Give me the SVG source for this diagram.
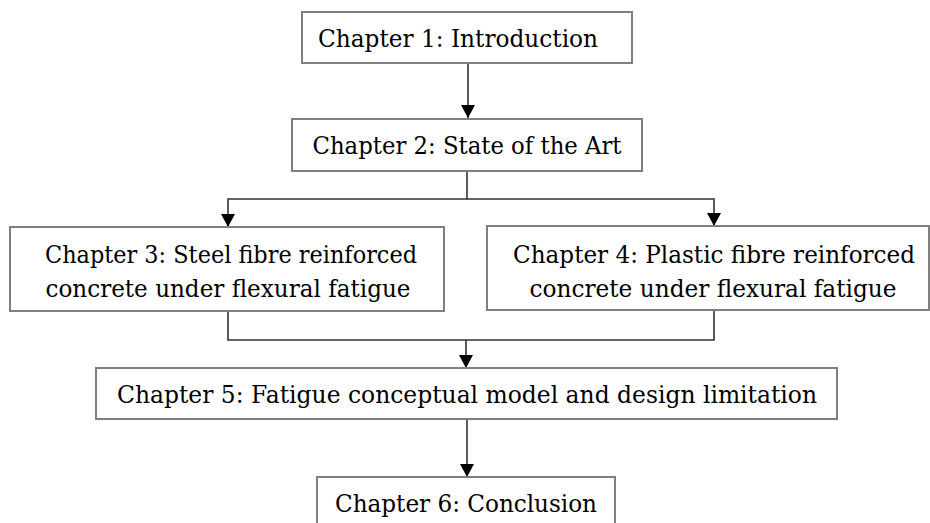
<svg xmlns="http://www.w3.org/2000/svg" width="930" height="523" viewBox="0 0 930 523">
<style>
.box{fill:#fff;stroke:#7f7f7f;stroke-width:2}
.t{font-family:"DejaVu Serif","Liberation Serif",serif;font-size:24px;fill:#000;text-anchor:middle}
.c{fill:none;stroke:#333;stroke-width:1.6}
</style>
<defs>
<marker id="ah" markerUnits="userSpaceOnUse" markerWidth="14" markerHeight="14" refX="13" refY="7" orient="auto">
<path d="M0,0 L13,7 L0,14 Z" fill="#000"/>
</marker>
</defs>
<rect width="930" height="523" fill="#fff"/>
<g id="connectors">
<path class="c" d="M468,63 V118" marker-end="url(#ah)"/>
<path class="c" d="M467,171 V199 H228 V227" marker-end="url(#ah)"/>
<path class="c" d="M467,199 H714 V226" marker-end="url(#ah)"/>
<path class="c" d="M228,311 V340 H714 V310"/>
<path class="c" d="M466,340 V368" marker-end="url(#ah)"/>
<path class="c" d="M467,419 V477" marker-end="url(#ah)"/>
</g>
<g id="ch1"><rect class="box" x="302" y="12" width="330" height="51"/><text class="t" x="458" y="47" textLength="280" lengthAdjust="spacingAndGlyphs">Chapter 1: Introduction</text></g>
<g id="ch2"><rect class="box" x="292" y="119" width="350" height="52"/><text class="t" x="467" y="154" textLength="309" lengthAdjust="spacingAndGlyphs">Chapter 2: State of the Art</text></g>
<g id="ch3"><rect class="box" x="10" y="227" width="434" height="84"/><text class="t" x="231" y="263" textLength="372" lengthAdjust="spacingAndGlyphs">Chapter 3: Steel fibre reinforced</text><text class="t" x="228" y="297" textLength="365" lengthAdjust="spacingAndGlyphs">concrete under flexural fatigue</text></g>
<g id="ch4"><rect class="box" x="487" y="226" width="442" height="84"/><text class="t" x="714" y="263" textLength="402" lengthAdjust="spacingAndGlyphs">Chapter 4: Plastic fibre reinforced</text><text class="t" x="713" y="297" textLength="367" lengthAdjust="spacingAndGlyphs">concrete under flexural fatigue</text></g>
<g id="ch5"><rect class="box" x="96" y="368" width="741" height="51"/><text class="t" x="467" y="403" textLength="700" lengthAdjust="spacingAndGlyphs">Chapter 5: Fatigue conceptual model and design limitation</text></g>
<g id="ch6"><rect class="box" x="317" y="477" width="298" height="60"/><text class="t" x="466" y="512" textLength="262" lengthAdjust="spacingAndGlyphs">Chapter 6: Conclusion</text></g>
</svg>
